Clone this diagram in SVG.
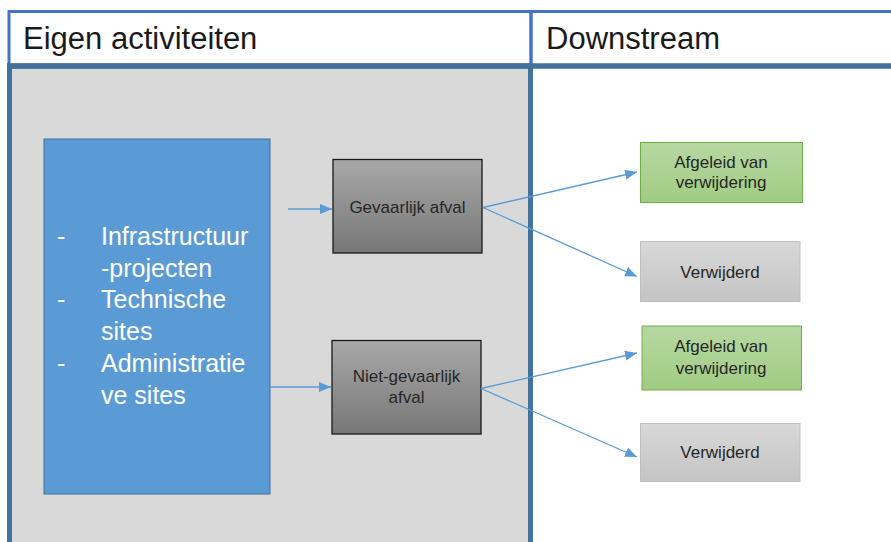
<svg xmlns="http://www.w3.org/2000/svg" width="891" height="542" viewBox="0 0 891 542">
  <style>
    .hdr { font-family: "Liberation Sans", Arial, sans-serif; font-size: 31px; fill: #1a1a1a; }
    .lbl { font-family: "Liberation Sans", Arial, sans-serif; font-size: 17px; fill: #262626; text-anchor: middle; }
    .lst { font-family: "Liberation Sans", Arial, sans-serif; font-size: 25px; fill: #ffffff; }
    .conn { stroke: #5B9BD5; stroke-width: 1.3; fill: none; marker-end: url(#arr); }
  </style>
  <defs>
    <marker id="arr" markerUnits="userSpaceOnUse" markerWidth="12" markerHeight="10" refX="12" refY="5" orient="auto">
      <path d="M0,0 L12,5 L0,10 z" fill="#5B9BD5"/>
    </marker>
    <linearGradient id="gDark" x1="0" y1="0" x2="0" y2="1">
      <stop offset="0" stop-color="#A8A8A8"/>
      <stop offset="1" stop-color="#777777"/>
    </linearGradient>
    <linearGradient id="gGreen" x1="0" y1="0" x2="0" y2="1">
      <stop offset="0" stop-color="#B6D8A1"/>
      <stop offset="1" stop-color="#A1CC84"/>
    </linearGradient>
    <linearGradient id="gLight" x1="0" y1="0" x2="0" y2="1">
      <stop offset="0" stop-color="#D8D8D8"/>
      <stop offset="1" stop-color="#C4C4C4"/>
    </linearGradient>
  </defs>

  <rect x="0" y="0" width="891" height="542" fill="#ffffff"/>

  <g id="lanes">
    <rect x="9" y="11.5" width="890" height="54" fill="#ffffff" stroke="#4472C4" stroke-width="3"/>
    <line x1="531" y1="11" x2="531" y2="65" stroke="#4472C4" stroke-width="3.5"/>
    <rect x="9.5" y="66" width="521" height="485" fill="#D9D9D9" stroke="#41719C" stroke-width="5"/>
    <line x1="7" y1="66" x2="891" y2="66" stroke="#41719C" stroke-width="5.5"/>
    <text class="hdr" x="23" y="49">Eigen activiteiten</text>
    <text class="hdr" x="546" y="49">Downstream</text>
  </g>

  <g id="bron">
    <rect x="44" y="139" width="226" height="355" fill="#5B9BD5" stroke="#41719C" stroke-width="1"/>
    <text class="lst" x="57" y="245">-</text>
    <text class="lst" x="101" y="245">Infrastructuur</text>
    <text class="lst" x="101" y="277">-projecten</text>
    <text class="lst" x="57" y="308">-</text>
    <text class="lst" x="101" y="308">Technische</text>
    <text class="lst" x="101" y="340">sites</text>
    <text class="lst" x="57" y="372">-</text>
    <text class="lst" x="101" y="372">Administratie</text>
    <text class="lst" x="101" y="404">ve sites</text>
  </g>

  <g id="gevaarlijk">
    <rect x="333" y="159.5" width="149" height="93.5" fill="url(#gDark)" stroke="#1a1a1a" stroke-width="1.3"/>
    <text class="lbl" x="407.5" y="212.5">Gevaarlijk afval</text>
  </g>

  <g id="nietgevaarlijk">
    <rect x="332" y="340.5" width="149" height="93.5" fill="url(#gDark)" stroke="#1a1a1a" stroke-width="1.3"/>
    <text class="lbl" x="406.5" y="382">Niet-gevaarlijk</text>
    <text class="lbl" x="406.5" y="403">afval</text>
  </g>

  <g id="afgeleid1">
    <rect x="640.5" y="142.5" width="162" height="60" fill="url(#gGreen)" stroke="#70AD47" stroke-width="1"/>
    <text class="lbl" x="721" y="167.5">Afgeleid van</text>
    <text class="lbl" x="721" y="188">verwijdering</text>
  </g>

  <g id="verwijderd1">
    <rect x="640.5" y="241.5" width="159.5" height="60" fill="url(#gLight)" stroke="#BFBFBF" stroke-width="1"/>
    <text class="lbl" x="720" y="277.5">Verwijderd</text>
  </g>

  <g id="afgeleid2">
    <rect x="642" y="326" width="159.5" height="64" fill="url(#gGreen)" stroke="#70AD47" stroke-width="1"/>
    <text class="lbl" x="721" y="352">Afgeleid van</text>
    <text class="lbl" x="721" y="373.5">verwijdering</text>
  </g>

  <g id="verwijderd2">
    <rect x="640.5" y="423.5" width="159.5" height="58" fill="url(#gLight)" stroke="#BFBFBF" stroke-width="1"/>
    <text class="lbl" x="720" y="457.5">Verwijderd</text>
  </g>

  <g id="connectors">
    <line class="conn" x1="288" y1="209" x2="332" y2="209"/>
    <line class="conn" x1="270" y1="387" x2="331" y2="387"/>
    <line class="conn" x1="483" y1="207.5" x2="637" y2="172"/>
    <line class="conn" x1="483" y1="207.5" x2="637" y2="276.5"/>
    <line class="conn" x1="481" y1="388.5" x2="637" y2="353"/>
    <line class="conn" x1="481" y1="388.5" x2="637" y2="457"/>
  </g>
</svg>
